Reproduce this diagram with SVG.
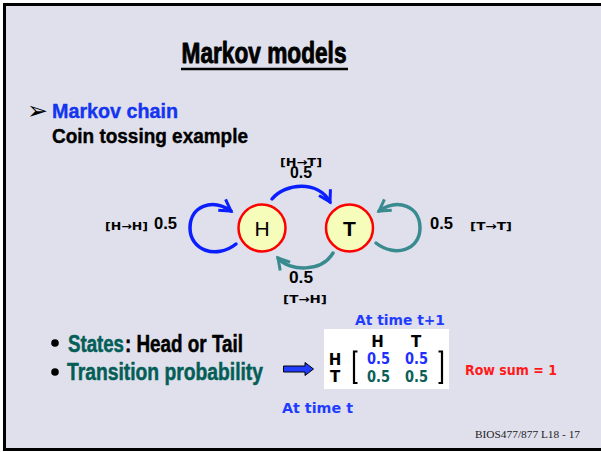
<svg xmlns="http://www.w3.org/2000/svg" width="601" height="452" viewBox="0 0 601 452">
<style>
.cond{font-family:"Liberation Sans Narrow","Liberation Sans",Arial,sans-serif;font-weight:bold;stroke-linejoin:round}
.sans{font-family:"Liberation Sans",Arial,sans-serif;font-weight:bold}
.arr{font-family:"DejaVu Sans",sans-serif;font-weight:bold}
.comic{font-family:"DejaVu Sans","Liberation Sans",sans-serif;font-weight:bold}
.node circle{fill:#f6fcb9;stroke:#ff0000;stroke-width:2.5}
.node text{font-family:"Liberation Sans",Arial,sans-serif;font-size:21px;text-anchor:middle}
.blue{stroke:#0a1eff}
.teal{stroke:#3a8b90}
.edge{fill:none;stroke-width:3.5;stroke-linecap:round}
</style>
<defs>
<marker id="ab" viewBox="0 0 16 16" refX="13" refY="8" markerWidth="16" markerHeight="16" markerUnits="userSpaceOnUse" orient="auto">
<path d="M2,1.5 L13,8 L2,14.5" fill="none" stroke="#0a1eff" stroke-width="3" stroke-linejoin="miter"/>
</marker>
<marker id="at" viewBox="0 0 16 16" refX="13" refY="8" markerWidth="16" markerHeight="16" markerUnits="userSpaceOnUse" orient="auto">
<path d="M2,1.5 L13,8 L2,14.5" fill="none" stroke="#3a8b90" stroke-width="3" stroke-linejoin="miter"/>
</marker>
</defs>
<rect x="0" y="0" width="601" height="452" fill="#ffffff"/>
<rect x="4.5" y="4.5" width="640" height="445" fill="#dfe0ec" stroke="#000" stroke-width="3"/>

<g id="title">
<text class="cond" x="264" y="63" font-size="29" text-anchor="middle" stroke="#000" stroke-width="0.9" textLength="165" lengthAdjust="spacingAndGlyphs">Markov models</text>
<line x1="181" y1="69" x2="348" y2="69" stroke="#000" stroke-width="2.5"/>
</g>

<g id="heading">
<text x="27" y="119" font-family="DejaVu Sans,sans-serif" font-size="25" fill="#000">➢</text>
<text class="cond" x="52" y="118" font-size="21" fill="#1434f0" stroke="#1434f0" stroke-width="0.4" textLength="126" lengthAdjust="spacingAndGlyphs">Markov chain</text>
<text class="cond" x="52" y="143" font-size="20" fill="#000" stroke="#000" stroke-width="0.4" textLength="196" lengthAdjust="spacingAndGlyphs">Coin tossing example</text>
</g>

<g id="connectors">
<path class="edge blue" d="M236,244 C216,260 190,250 190,228 C190,206 212,198 231,211" marker-end="url(#ab)"/>
<path class="edge blue" d="M272,199 C285,183 318,180 330,202" marker-end="url(#ab)"/>
<path class="edge teal" d="M333,253 C322,272 290,272 278,258" marker-end="url(#at)"/>
<path class="edge teal" d="M376,243 C395,258 420,250 420,228 C420,206 398,198 379,211" marker-end="url(#at)"/>
</g>

<g id="node-H" class="node">
<circle cx="262" cy="228" r="23.5"/>
<text x="262" y="235.5">H</text>
</g>
<g id="node-T" class="node">
<circle cx="349.5" cy="228" r="23.5"/>
<text x="349.5" y="235.5" font-weight="bold">T</text>
</g>

<g id="edge-labels">
<text class="arr" x="105" y="230" font-size="11" textLength="43" lengthAdjust="spacingAndGlyphs">[H→H]</text>
<text class="sans" x="154" y="229" font-size="16.5" textLength="23" lengthAdjust="spacingAndGlyphs">0.5</text>
<text class="arr" x="280" y="166" font-size="11" textLength="42" lengthAdjust="spacingAndGlyphs">[H→T]</text>
<text class="sans" x="290" y="178" font-size="16" textLength="22" lengthAdjust="spacingAndGlyphs">0.5</text>
<text class="sans" x="430" y="229" font-size="16.5" textLength="23" lengthAdjust="spacingAndGlyphs">0.5</text>
<text class="arr" x="470" y="230" font-size="11" textLength="42" lengthAdjust="spacingAndGlyphs">[T→T]</text>
<text class="sans" x="289" y="283" font-size="16.5" textLength="24" lengthAdjust="spacingAndGlyphs">0.5</text>
<text class="arr" x="283" y="303" font-size="11" textLength="44" lengthAdjust="spacingAndGlyphs">[T→H]</text>
</g>

<g id="bullets">
<circle cx="55" cy="343" r="3.8" fill="#000"/>
<text class="cond" x="68" y="352" font-size="23" fill="#045e57" stroke="#045e57" stroke-width="0.5" textLength="56" lengthAdjust="spacingAndGlyphs">States</text>
<text class="cond" x="125" y="352" font-size="23" fill="#000" stroke="#000" stroke-width="0.5" textLength="118" lengthAdjust="spacingAndGlyphs">: Head or Tail</text>
<circle cx="55" cy="372" r="3.8" fill="#000"/>
<text class="cond" x="67" y="380" font-size="23" fill="#045e57" stroke="#045e57" stroke-width="0.5" textLength="196" lengthAdjust="spacingAndGlyphs">Transition probability</text>
</g>

<g id="block-arrow">
<polygon points="283.5,366 305,366 305,362.5 313.5,369 305,375.5 305,372 283.5,372" fill="#1f3cff" stroke="#000" stroke-width="1"/>
</g>

<g id="matrix">
<rect x="324" y="329" width="125" height="60" fill="#ffffff"/>
<text class="comic" x="355" y="325" font-size="14" fill="#1f3cff" textLength="90" lengthAdjust="spacingAndGlyphs">At time t+1</text>
<text class="comic" x="377.5" y="347" font-size="15" fill="#000" text-anchor="middle">H</text>
<text class="comic" x="416" y="347" font-size="15" fill="#000" text-anchor="middle">T</text>
<text class="comic" x="335" y="365" font-size="15" fill="#000" text-anchor="middle">H</text>
<text class="comic" x="335" y="382" font-size="15" fill="#000" text-anchor="middle">T</text>
<path d="M357.5,351.5 L354,351.5 L354,383 L357.5,383" fill="none" stroke="#000" stroke-width="2.2"/>
<path d="M438.5,351.5 L442,351.5 L442,383 L438.5,383" fill="none" stroke="#000" stroke-width="2.2"/>
<text class="comic" x="367" y="364" font-size="15" fill="#1f2fff" textLength="23" lengthAdjust="spacingAndGlyphs">0.5</text>
<text class="comic" x="405" y="364" font-size="15" fill="#1f2fff" textLength="23" lengthAdjust="spacingAndGlyphs">0.5</text>
<text class="comic" x="367" y="382" font-size="15" fill="#0a6058" textLength="23" lengthAdjust="spacingAndGlyphs">0.5</text>
<text class="comic" x="405" y="382" font-size="15" fill="#0a6058" textLength="23" lengthAdjust="spacingAndGlyphs">0.5</text>
</g>

<g id="annotations">
<text class="comic" x="465" y="375" font-size="14" fill="#ff1a1a" textLength="92" lengthAdjust="spacingAndGlyphs">Row sum = 1</text>
<text class="comic" x="282" y="413" font-size="14" fill="#1f3cff" textLength="71" lengthAdjust="spacingAndGlyphs">At time t</text>
<text x="475" y="438" font-family="Liberation Serif,Times New Roman,serif" font-size="11" fill="#222" textLength="105" lengthAdjust="spacingAndGlyphs">BIOS477/877 L18 - 17</text>
</g>
</svg>
